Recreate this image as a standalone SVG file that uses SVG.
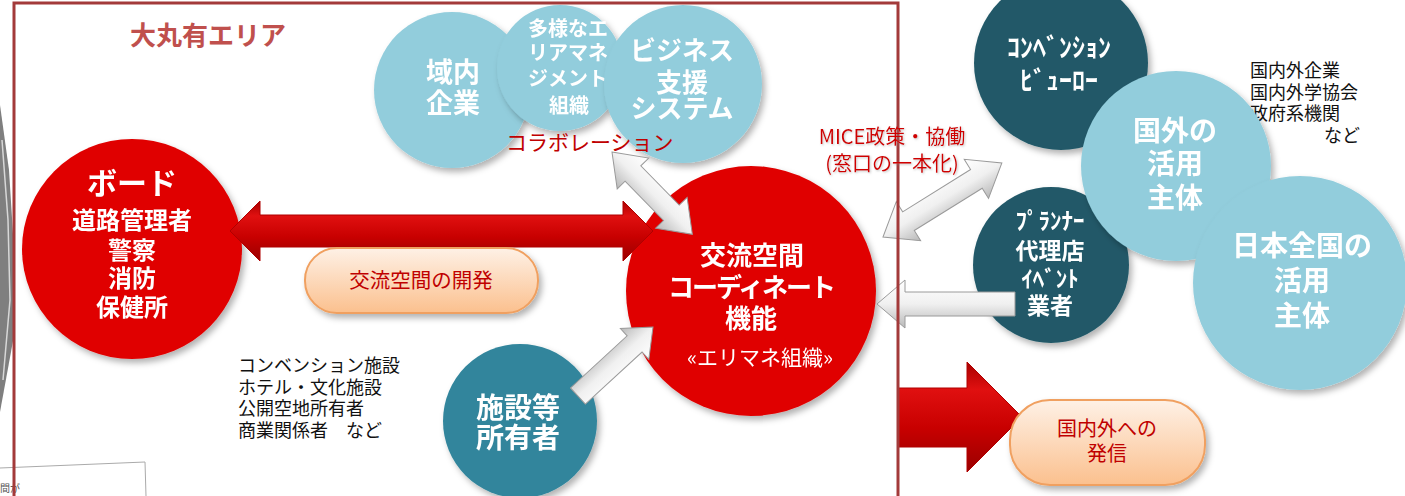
<svg xmlns="http://www.w3.org/2000/svg" width="1405" height="496" viewBox="0 0 1405 496">
<style>
text{font-family:"Noto Sans CJK JP","Noto Sans CJK SC",sans-serif}
.cw{fill:#fff;font-weight:bold;text-anchor:middle}
.red{fill:#e00000}
.lb{fill:#92cddc}
.dt{fill:#215968}
.tl{fill:#31859c}
.blk{fill:#111;font-size:18px}
.rt{fill:#c00000}
.garrow{fill:url(#gGray);stroke:#9a9a9a;stroke-width:1}
.rarrow{fill:url(#gRed);stroke:#b00000;stroke-width:1}
.pill{fill:url(#gOrange);stroke:#f0a060;stroke-width:2}
</style>
<defs>
<filter id="sh" x="-20%" y="-20%" width="140%" height="140%">
<feDropShadow dx="3" dy="4" stdDeviation="3" flood-color="#000" flood-opacity="0.3"/>
</filter>
<filter id="glow" x="-10%" y="-30%" width="120%" height="160%">
<feDropShadow dx="1" dy="1" stdDeviation="1.2" flood-color="#888" flood-opacity="0.5"/>
</filter>
<linearGradient id="gGray" x1="0" y1="0" x2="0" y2="1">
<stop offset="0" stop-color="#ffffff"/>
<stop offset="0.5" stop-color="#f0f0f0"/>
<stop offset="1" stop-color="#b8b8b8"/>
</linearGradient>
<linearGradient id="gRed" x1="0" y1="0" x2="0" y2="1">
<stop offset="0" stop-color="#a80000"/>
<stop offset="0.25" stop-color="#e01010"/>
<stop offset="0.6" stop-color="#c80000"/>
<stop offset="1" stop-color="#9a0000"/>
</linearGradient>
<linearGradient id="gOrange" x1="0" y1="0" x2="0" y2="1">
<stop offset="0" stop-color="#fef1e6"/>
<stop offset="1" stop-color="#fbc08e"/>
</linearGradient>
</defs>

<rect x="0" y="0" width="1405" height="496" fill="#fff"/>

<g id="background">
<polygon points="0,105 9,170 14,250 15,330 0,412" fill="#7f7f7f"/>
<polyline points="2,140 8,220 10,300 3,380" fill="none" stroke="#d8d8d8" stroke-width="1.5"/>
<polyline points="0,468 145,462 146,496" fill="none" stroke="#aaa" stroke-width="1"/>
<text x="0" y="492" font-size="10" fill="#555">間が</text>
</g>

<g id="title">
<text x="130" y="45" font-size="26" font-weight="bold" fill="#c0504d">大丸有エリア</text>
</g>

<g id="node-ikinai" filter="url(#sh)">
<circle cx="452" cy="90" r="78" class="lb"/>
<text class="cw" font-size="27"><tspan x="453" y="82">域内</tspan><tspan x="453" y="113">企業</tspan></text>
</g>

<g id="node-tayou" filter="url(#sh)">
<circle cx="560" cy="68" r="63" class="lb"/>
<text class="cw" font-size="20"><tspan x="568" y="36">多様なエ</tspan><tspan x="568" y="60">リアマネ</tspan><tspan x="568" y="86">ジメント</tspan><tspan x="569" y="113">組織</tspan></text>
</g>

<g id="node-business" filter="url(#sh)">
<circle cx="683" cy="84" r="79" class="lb"/>
<text class="cw" font-size="26"><tspan x="682" y="60">ビジネス</tspan><tspan x="682" y="92">支援</tspan><tspan x="682" y="118">システム</tspan></text>
</g>

<g id="node-board" filter="url(#sh)">
<circle cx="132" cy="249" r="110" class="red"/>
<text class="cw"><tspan x="132" y="194" font-size="30">ボード</tspan><tspan x="132" y="229" font-size="24">道路管理者</tspan><tspan x="132" y="259" font-size="24">警察</tspan><tspan x="132" y="287" font-size="24">消防</tspan><tspan x="132" y="316" font-size="24">保健所</tspan></text>
</g>

<g id="node-coordinator" filter="url(#sh)">
<circle cx="751" cy="291" r="125" class="red"/>
<text class="cw" font-size="26"><tspan x="752" y="265">交流空間</tspan><tspan x="751" y="297" letter-spacing="-2">コーディネート</tspan><tspan x="751" y="328">機能</tspan></text>
<text x="760" y="365" font-size="21" fill="#fff" text-anchor="middle">«エリマネ組織»</text>
</g>

<g id="node-shisetsu" filter="url(#sh)">
<circle cx="520" cy="421" r="77" class="tl"/>
<text class="cw" font-size="28"><tspan x="518" y="418">施設等</tspan><tspan x="518" y="448">所有者</tspan></text>
</g>

<g id="node-conv-bureau" filter="url(#sh)">
<circle cx="1061" cy="63" r="87" class="dt"/>
<text class="cw" font-size="26"><tspan x="1059" y="57">ｺﾝﾍﾞﾝｼｮﾝ</tspan><tspan x="1059" y="90">ﾋﾞｭｰﾛｰ</tspan></text>
</g>

<g id="node-planner" filter="url(#sh)">
<circle cx="1051" cy="265" r="78" class="dt"/>
<text class="cw" font-size="23"><tspan x="1050" y="229">ﾌﾟﾗﾝﾅｰ</tspan><tspan x="1050" y="259">代理店</tspan><tspan x="1050" y="287">ｲﾍﾞﾝﾄ</tspan><tspan x="1050" y="314">業者</tspan></text>
</g>

<g id="note-overseas">
<text class="blk"><tspan x="1250" y="77">国内外企業</tspan><tspan x="1250" y="99">国内外学協会</tspan><tspan x="1250" y="120">政府系機関</tspan><tspan x="1360" y="142" text-anchor="end">など</tspan></text>
</g>

<g id="node-kokugai" filter="url(#sh)">
<circle cx="1176" cy="166" r="95" class="lb"/>
<text class="cw" font-size="28"><tspan x="1175" y="141">国外の</tspan><tspan x="1175" y="174">活用</tspan><tspan x="1175" y="208">主体</tspan></text>
</g>

<g id="node-nihon" filter="url(#sh)">
<circle cx="1300" cy="283" r="107" class="lb"/>
<text class="cw" font-size="28"><tspan x="1302" y="256">日本全国の</tspan><tspan x="1302" y="291">活用</tspan><tspan x="1302" y="326">主体</tspan></text>
</g>

<g id="note-facilities">
<text class="blk"><tspan x="238" y="372">コンベンション施設</tspan><tspan x="238" y="394">ホテル・文化施設</tspan><tspan x="238" y="415">公開空地所有者</tspan><tspan x="238" y="437">商業関係者　など</tspan></text>
</g>

<g id="connectors">
<polygon class="rarrow" points="230,231 260,201 260,215 623,215 623,201 653,231 623,261 623,247 260,247 260,261"/>
<polygon class="garrow" transform="translate(612,152) rotate(45.7)" points="0,0 30,-22 30,-11 85,-11 85,-22 115,0 85,22 85,11 30,11 30,22"/>
<polygon class="garrow" transform="translate(883,237) rotate(-31.9)" points="0,0 30,-23 30,-11 110,-11 110,-23 140,0 110,23 110,11 30,11 30,23"/>
<polygon class="garrow" points="877,304 905,280 905,292 1015,292 1015,316 905,316 905,328"/>
<polygon class="garrow" transform="translate(653,327) rotate(137.4)" points="0,0 25,-21 25,-11 102,-11 102,11 25,11 25,21"/>
<polygon class="rarrow" points="898,388 967,388 967,362 1022,417 967,472 967,447 898,447"/>
</g>

<g id="label-collab">
<text x="506" y="150" font-size="21" class="rt">コラボレーション</text>
</g>

<g id="pill-development">
<rect x="305" y="248" width="233" height="65" rx="32" class="pill" filter="url(#sh)"/>
<text x="421" y="288" font-size="20.5" class="rt" text-anchor="middle">交流空間の開発</text>
</g>

<g id="pill-outreach">
<rect x="1010" y="400" width="195" height="85" rx="40" class="pill" filter="url(#sh)"/>
<text font-size="20" class="rt" text-anchor="middle"><tspan x="1107" y="436">国内外への</tspan><tspan x="1107" y="461">発信</tspan></text>
</g>

<g id="frame">
<path d="M14,500 V3 H898 V500" fill="none" stroke="#a33a3a" stroke-width="3"/>
</g>

<g id="label-mice" filter="url(#glow)">
<text font-size="20" fill="#d00000" text-anchor="middle"><tspan x="892" y="144">MICE政策・協働</tspan><tspan x="892" y="171">(窓口の一本化)</tspan></text>
</g>
</svg>
